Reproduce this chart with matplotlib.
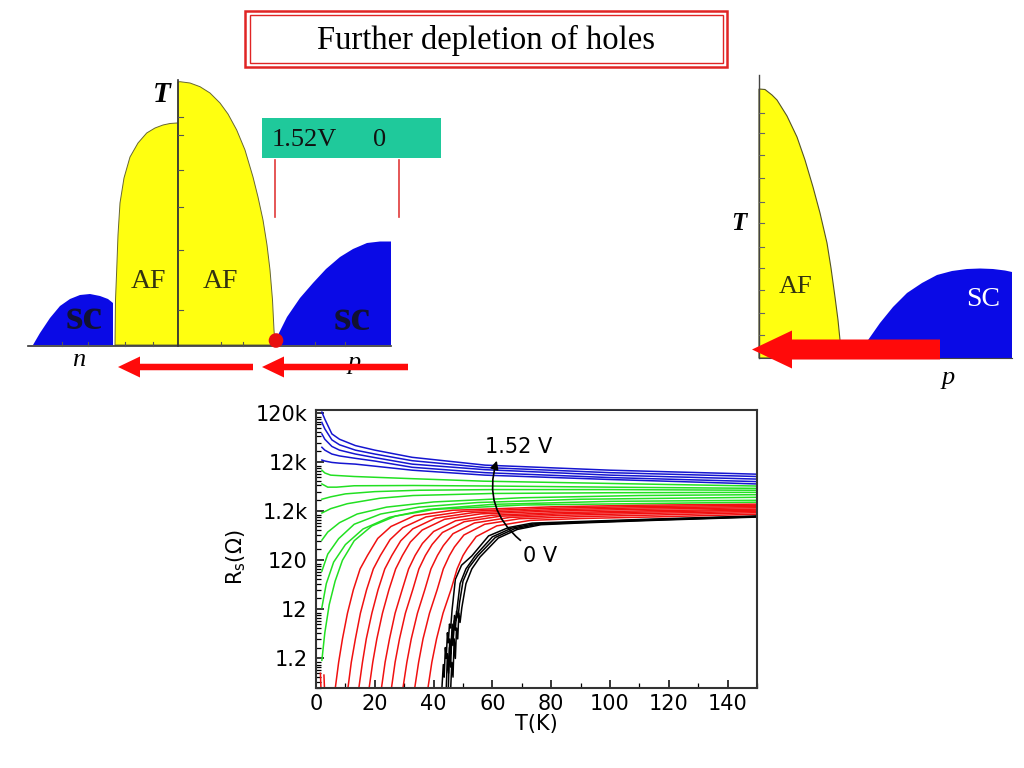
import matplotlib
matplotlib.use('Agg')
import matplotlib.pyplot as plt
from matplotlib.patches import Polygon, Rectangle, FancyArrow, Circle
from matplotlib.ticker import FixedLocator, NullFormatter, LogLocator, MultipleLocator

# ---------------- data ----------------
blue_T = [2, 3, 5.4, 8, 13.4, 20, 32.7, 57.5, 100, 150]
blue_R = [
    [125e3, 90e3, 45e3, 35e3, 26e3, 21e3, 15e3, 10.4e3, 8.2e3, 6.8e3],
    [77e3, 57e3, 34e3, 27e3, 21e3, 17.5e3, 12.8e3, 9.3e3, 7.3e3, 6.1e3],
    [45e3, 35e3, 25e3, 21e3, 17.5e3, 14.8e3, 10.9e3, 8.4e3, 6.5e3, 5.4e3],
    [24e3, 21e3, 17.5e3, 16e3, 14.3e3, 12.6e3, 9.4e3, 7.3e3, 5.8e3, 4.8e3],
    [13.2e3, 12.6e3, 11.8e3, 11.4e3, 10.9e3, 9.9e3, 8.2e3, 6.5e3, 5.3e3, 4.3e3],
]

green_T = [
    [2, 3, 5, 13, 33, 57, 100, 150],
    [2, 4, 7, 13, 33, 60, 100, 150],
    [2, 5, 10, 20, 35, 60, 100, 150],
    [2, 5, 10.6, 21.7, 33, 60, 100, 150],
    [2, 4, 8, 14, 24, 40, 70, 110, 150],
    [2, 4, 7.7, 13, 22, 35, 55, 90, 150],
    [2, 3.5, 6, 10, 16, 25, 38, 60, 100, 150],
    [2, 3, 4.5, 6.5, 9, 13, 19, 27, 40, 70, 150],
]
green_R = [
    [8.2e3, 7.2e3, 6.5e3, 6.1e3, 5.5e3, 4.9e3, 4.4e3, 3.9e3],
    [4.3e3, 3.7e3, 3.7e3, 3.95e3, 4.0e3, 3.9e3, 3.7e3, 3.5e3],
    [2.1e3, 2.35e3, 2.7e3, 3.0e3, 3.2e3, 3.3e3, 3.3e3, 3.2e3],
    [1.1e3, 1.35e3, 1.7e3, 2.2e3, 2.5e3, 2.75e3, 2.85e3, 2.9e3],
    [308, 450, 700, 1.05e3, 1.45e3, 1.85e3, 2.25e3, 2.5e3, 2.6e3],
    [72, 160, 330, 650, 1.05e3, 1.45e3, 1.8e3, 2.1e3, 2.3e3],
    [13, 40, 110, 250, 520, 900, 1.3e3, 1.65e3, 1.9e3, 2.0e3],
    [1.1, 4, 15, 45, 120, 300, 600, 950, 1.3e3, 1.6e3, 1.83e3],
]

red_T = [
    [1.5, 1.7],
    [2.7, 2.9],
    [6.5, 7.7, 9.0, 10.7, 12.7, 15.0, 17.5, 21.0, 25.5, 33.5, 46.5, 80, 110, 150],
    [10.8, 12.0, 13.4, 15.1, 17.2, 19.5, 21.9, 25.2, 29.5, 37.4, 50.2, 80, 110, 150],
    [14.5, 15.8, 17.1, 19.0, 21.1, 23.4, 25.8, 28.8, 32.9, 40.6, 53.3, 80, 110, 150],
    [18.0, 19.3, 20.7, 22.6, 24.8, 27.1, 29.4, 32.1, 36.1, 43.7, 56.1, 80, 110, 150],
    [22.2, 23.5, 25.0, 26.9, 29.3, 31.5, 33.7, 36.2, 40.0, 47.5, 59.7, 80, 110, 150],
    [25.6, 26.9, 28.4, 30.4, 32.9, 35.0, 37.2, 39.5, 43.0, 50.4, 62.5, 85, 110, 150],
    [29.5, 30.9, 32.4, 34.5, 37.0, 39.1, 41.3, 43.3, 46.6, 53.9, 65.8, 85, 110, 150],
    [33.5, 34.9, 36.4, 38.6, 41.2, 43.3, 45.4, 47.1, 50.3, 57.4, 69.1, 90, 115, 150],
    [38.0, 39.4, 41.0, 43.2, 45.9, 48.0, 50.0, 51.5, 54.5, 61.5, 73.0, 90, 118, 150],
]
red_R = [
    [0.6, 0.28],
    [0.55, 0.28],
    [0.28, 1, 3, 10, 30, 80, 150, 334, 585, 969, 1253, 1470, 1587, 1670],
    [0.28, 1, 3, 10, 30, 80, 150, 316, 553, 916, 1185, 1375, 1490, 1580],
    [0.28, 1, 3, 10, 30, 80, 150, 298, 522, 864, 1118, 1281, 1400, 1490],
    [0.28, 1, 3, 10, 30, 80, 150, 282, 494, 818, 1058, 1200, 1310, 1410],
    [0.28, 1, 3, 10, 30, 80, 150, 264, 462, 766, 990, 1110, 1215, 1320],
    [0.28, 1, 3, 10, 30, 80, 150, 252, 441, 731, 945, 1065, 1145, 1260],
    [0.28, 1, 3, 10, 30, 80, 150, 238, 417, 690, 893, 990, 1070, 1190],
    [0.28, 1, 3, 10, 30, 80, 150, 224, 392, 650, 840, 930, 1000, 1120],
    [0.28, 1, 3, 10, 30, 80, 150, 208, 364, 603, 780, 850, 925, 1040],
]

black_T = [
    [42.8, 43.3, 43.6, 44.0, 44.3, 44.7, 45.0, 45.4, 45.8, 46.3, 47.4, 49.5, 53.0, 58.7, 65.5, 73.5, 90, 115, 150],
    [44.3, 44.7, 45.1, 45.5, 45.9, 46.3, 46.7, 47.1, 47.6, 48.1, 49.0, 51.0, 54.1, 60.0, 66.5, 74.5, 90, 115, 150],
    [45.0, 45.4, 45.8, 46.2, 46.6, 47.0, 47.4, 47.8, 48.3, 48.8, 50.0, 52.0, 55.0, 61.0, 67.5, 75.5, 90, 115, 150],
    [45.8, 46.2, 46.6, 47.0, 47.4, 47.8, 48.2, 48.6, 49.0, 49.6, 51.0, 53.0, 55.8, 62.0, 68.5, 76.5, 90, 115, 150],
]
black_R = [
    [0.28, 0.9, 0.5, 2.0, 1.2, 4.0, 2.5, 6.0, 5.0, 12, 49, 95, 147, 376, 557, 685, 740, 830, 960],
    [0.28, 1.5, 0.6, 3.0, 1.5, 6.0, 3.5, 9.0, 7.0, 14, 40, 80, 147, 360, 540, 665, 720, 810, 940],
    [0.28, 2.0, 0.8, 4.0, 2.2, 7.0, 4.5, 11, 8, 16, 45, 85, 147, 350, 525, 650, 705, 795, 925],
    [0.28, 1.0, 0.5, 3.0, 1.2, 5.0, 3.0, 10, 6.5, 13, 40, 80, 140, 340, 510, 635, 690, 780, 910],
]

ytick_vals = [1.2, 12, 120, 1.2e3, 12e3, 120e3]
ytick_labels = ['1.2', '12', '120', '1.2k', '12k', '120k']
xtick_vals = [0, 20, 40, 60, 80, 100, 120, 140]

# ---------------- phase-diagram outlines (schematic, pixel units) ----------------
left_sc_n_x = [33, 40, 50, 60, 70, 80, 90, 100, 108, 113, 113]
left_sc_n_y = [345, 333, 318, 306, 299, 295, 294, 296, 299, 303, 345]
left_af_n_x = [115, 115.5, 116.7, 118, 120, 124, 130, 138, 146.7, 155, 163, 170, 177, 178, 178]
left_af_n_y = [345, 300, 270, 235, 203, 178, 157, 143, 133, 128, 125, 123.5, 123, 123, 345]
left_af_p_x = [178, 178, 180, 190, 200, 210, 220, 228, 236.7, 245, 253, 258, 263, 267, 270, 272.5, 274, 275]
left_af_p_y = [345, 82, 81.7, 83, 86.7, 93, 103, 114, 130, 150, 177, 197, 220, 245, 270, 300, 330, 345]
left_sc_p_x = [275, 278, 287, 300, 313, 326, 340, 353, 367, 380, 391, 391]
left_sc_p_y = [345, 335, 317, 298, 283, 269, 257, 249, 243, 241.5, 241.5, 345]

right_af_x = [759, 759, 765, 772, 777, 787, 797, 805, 813, 820, 827, 831, 835, 838, 840, 841]
right_af_y = [358, 89, 89.5, 95, 100, 116, 137, 160, 187, 213, 243, 268, 297, 320, 340, 358]
right_sc_x = [858, 866, 880, 893, 907, 922, 937, 952, 967, 980, 993, 1005, 1012, 1012]
right_sc_y = [358, 343, 323, 307, 293, 283, 275, 271, 269, 268.5, 269, 270.5, 272, 358]

YEL = '#ffff10'
BLU = '#0a0ae6'
RED = '#ff0a0a'
SERIF = 'Liberation Serif'
SANS = 'DejaVu Sans'

fig = plt.figure(figsize=(10.24, 7.68), dpi=100)
bg = fig.add_axes([0, 0, 1, 1])
bg.set_xlim(0, 1024)
bg.set_ylim(768, 0)
bg.axis('off')

# title box
bg.add_patch(Rectangle((245, 10.5), 482, 56.5, fill=False, ec='#e02424', lw=1.8))
bg.add_patch(Rectangle((249.5, 14.5), 473, 48, fill=False, ec='#e02424', lw=1.0))
bg.text(486, 40, 'Further depletion of holes', family=SERIF, fontsize=23.5,
        ha='center', va='center', color='black')

# ---- left phase diagram ----
bg.add_patch(Polygon(list(zip(left_sc_n_x, left_sc_n_y)), closed=True, fc=BLU, ec='none'))
bg.add_patch(Polygon(list(zip(left_af_n_x, left_af_n_y)), closed=True, fc=YEL, ec='#666633', lw=0.7))
bg.add_patch(Polygon(list(zip(left_af_p_x, left_af_p_y)), closed=True, fc=YEL, ec='#666633', lw=0.7))
bg.add_patch(Polygon(list(zip(left_sc_p_x, left_sc_p_y)), closed=True, fc=BLU, ec='none'))
bg.plot([28, 391], [346, 346], color='#333333', lw=1.2)
bg.plot([178, 178], [346, 80], color='#333333', lw=1.2)
for ty in [117, 135, 170, 207, 250, 310]:
    bg.plot([178, 183], [ty, ty], color='#555555', lw=0.8)
for tx in [62, 88, 125, 153, 221, 243, 315, 345]:
    bg.plot([tx, tx], [346, 342], color='#555555', lw=0.8)
bg.text(162, 94, 'T', family=SERIF, style='italic', fontweight='bold',
        fontsize=21, ha='center', va='center')
bg.text(84, 318, 'sc', family=SERIF, fontweight='bold', fontsize=32,
        ha='center', va='center', color='#111133')
bg.text(352, 319, 'sc', family=SERIF, fontweight='bold', fontsize=32,
        ha='center', va='center', color='#111133')
bg.text(148, 282, 'AF', family=SERIF, fontsize=20, ha='center', va='center', color='#333311')
bg.text(220, 282, 'AF', family=SERIF, fontsize=20, ha='center', va='center', color='#333311')
bg.text(79, 360, 'n', family=SERIF, style='italic', fontsize=19, ha='center', va='center')
bg.text(354, 363, 'p', family=SERIF, style='italic', fontsize=19, ha='center', va='center')
bg.add_patch(Circle((276, 340.5), 7.3, fc='#e81010', ec='none', zorder=5))

# green voltage box and markers
bg.add_patch(Rectangle((262, 118), 179, 40, fc='#1fc99b', ec='none'))
bg.text(272, 140, '1.52V', family=SERIF, fontsize=19, ha='left', va='center', color='#111111')
bg.text(380, 140, '0', family=SERIF, fontsize=19, ha='center', va='center', color='#111111')
bg.plot([275, 275], [160, 217], color='#e03a3a', lw=1.2)
bg.plot([399, 399], [160, 217], color='#e03a3a', lw=1.2)

# small red arrows
bg.add_patch(FancyArrow(253, 367, -135, 0, width=6.5, head_width=21, head_length=22,
                        length_includes_head=True, fc=RED, ec='none', zorder=6))
bg.add_patch(FancyArrow(408, 367, -146, 0, width=6.5, head_width=21, head_length=22,
                        length_includes_head=True, fc=RED, ec='none', zorder=6))

# ---- right phase diagram ----
bg.add_patch(Polygon(list(zip(right_af_x, right_af_y)), closed=True, fc=YEL, ec='#555522', lw=0.8))
bg.add_patch(Polygon(list(zip(right_sc_x, right_sc_y)), closed=True, fc=BLU, ec='none'))
bg.plot([759, 759], [358, 75], color='#444444', lw=1.0)
bg.plot([759, 1012], [358, 358], color='#444444', lw=0.8)
for ty in [113, 133, 155, 178, 202, 223, 247, 268, 290, 313, 335]:
    bg.plot([759, 764], [ty, ty], color='#666666', lw=0.8)
bg.text(739, 224, 'T', family=SERIF, style='italic', fontweight='bold', fontsize=18,
        ha='center', va='center')
bg.text(796, 287, 'AF', family=SERIF, fontsize=19, ha='center', va='center', color='#333311')
bg.text(983, 300, 'SC', family=SERIF, fontsize=20, ha='center', va='center', color='white')
bg.text(948, 378, 'p', family=SERIF, style='italic', fontsize=19, ha='center', va='center')
bg.add_patch(FancyArrow(940, 349.5, -188, 0, width=20, head_width=38, head_length=40,
                        length_includes_head=True, fc=RED, ec='none', zorder=6))

# ---------------- main R(T) plot ----------------
ax = fig.add_axes([316 / 1024, 1 - 688 / 768, (757 - 316) / 1024, (688 - 410) / 768])
ax.set_yscale('log')
LW = 1.1
for T, R in zip(black_T, black_R):
    ax.plot(T, R, color='black', lw=LW)
for T, R in zip(red_T, red_R):
    ax.plot(T, R, color='#f01010', lw=LW)
for T, R in zip(green_T, green_R):
    ax.plot(T, R, color='#22e022', lw=LW)
for R in blue_R:
    ax.plot(blue_T, R, color='#1515d0', lw=LW)

ax.set_xlim(0, 150)
ax.set_ylim(0.3, 1.38e5)
ax.yaxis.set_major_locator(FixedLocator(ytick_vals))
ax.set_yticklabels(ytick_labels)
ax.yaxis.set_minor_locator(LogLocator(base=10, subs=[1, 2, 3, 4, 5, 6, 7, 8, 9], numticks=20))
ax.yaxis.set_minor_formatter(NullFormatter())
ax.xaxis.set_major_locator(FixedLocator(xtick_vals))
ax.xaxis.set_minor_locator(MultipleLocator(10))
ax.tick_params(which='both', direction='in', top=False, right=False, labelsize=15)
ax.tick_params(axis='x', pad=4)
ax.tick_params(axis='y', pad=6)
ax.tick_params(which='major', length=6, width=1.1)
ax.tick_params(which='minor', length=3.5, width=0.9)
for lab in ax.get_xticklabels() + ax.get_yticklabels():
    lab.set_family(SANS)
for s in ax.spines.values():
    s.set_linewidth(1.5)
    s.set_color('#333333')
ax.set_xlabel('T(K)', family=SANS, fontsize=15, labelpad=0)
ax.set_ylabel(r'R$_\mathregular{s}$($\Omega$)', family=SANS, fontsize=15, labelpad=4)
ax.yaxis.set_label_coords(-0.155, 0.47)

ax.annotate('', xy=(61.8, 14.5e3), xytext=(70.3, 280),
            arrowprops=dict(arrowstyle='-|>', color='black', lw=1.2,
                            connectionstyle='arc3,rad=-0.35', mutation_scale=12))
ax.text(57.5, 24e3, '1.52 V', family=SANS, fontsize=15, ha='left', va='center')
ax.text(70.5, 145, '0 V', family=SANS, fontsize=15, ha='left', va='center')

fig.savefig('out.png', dpi=100)
